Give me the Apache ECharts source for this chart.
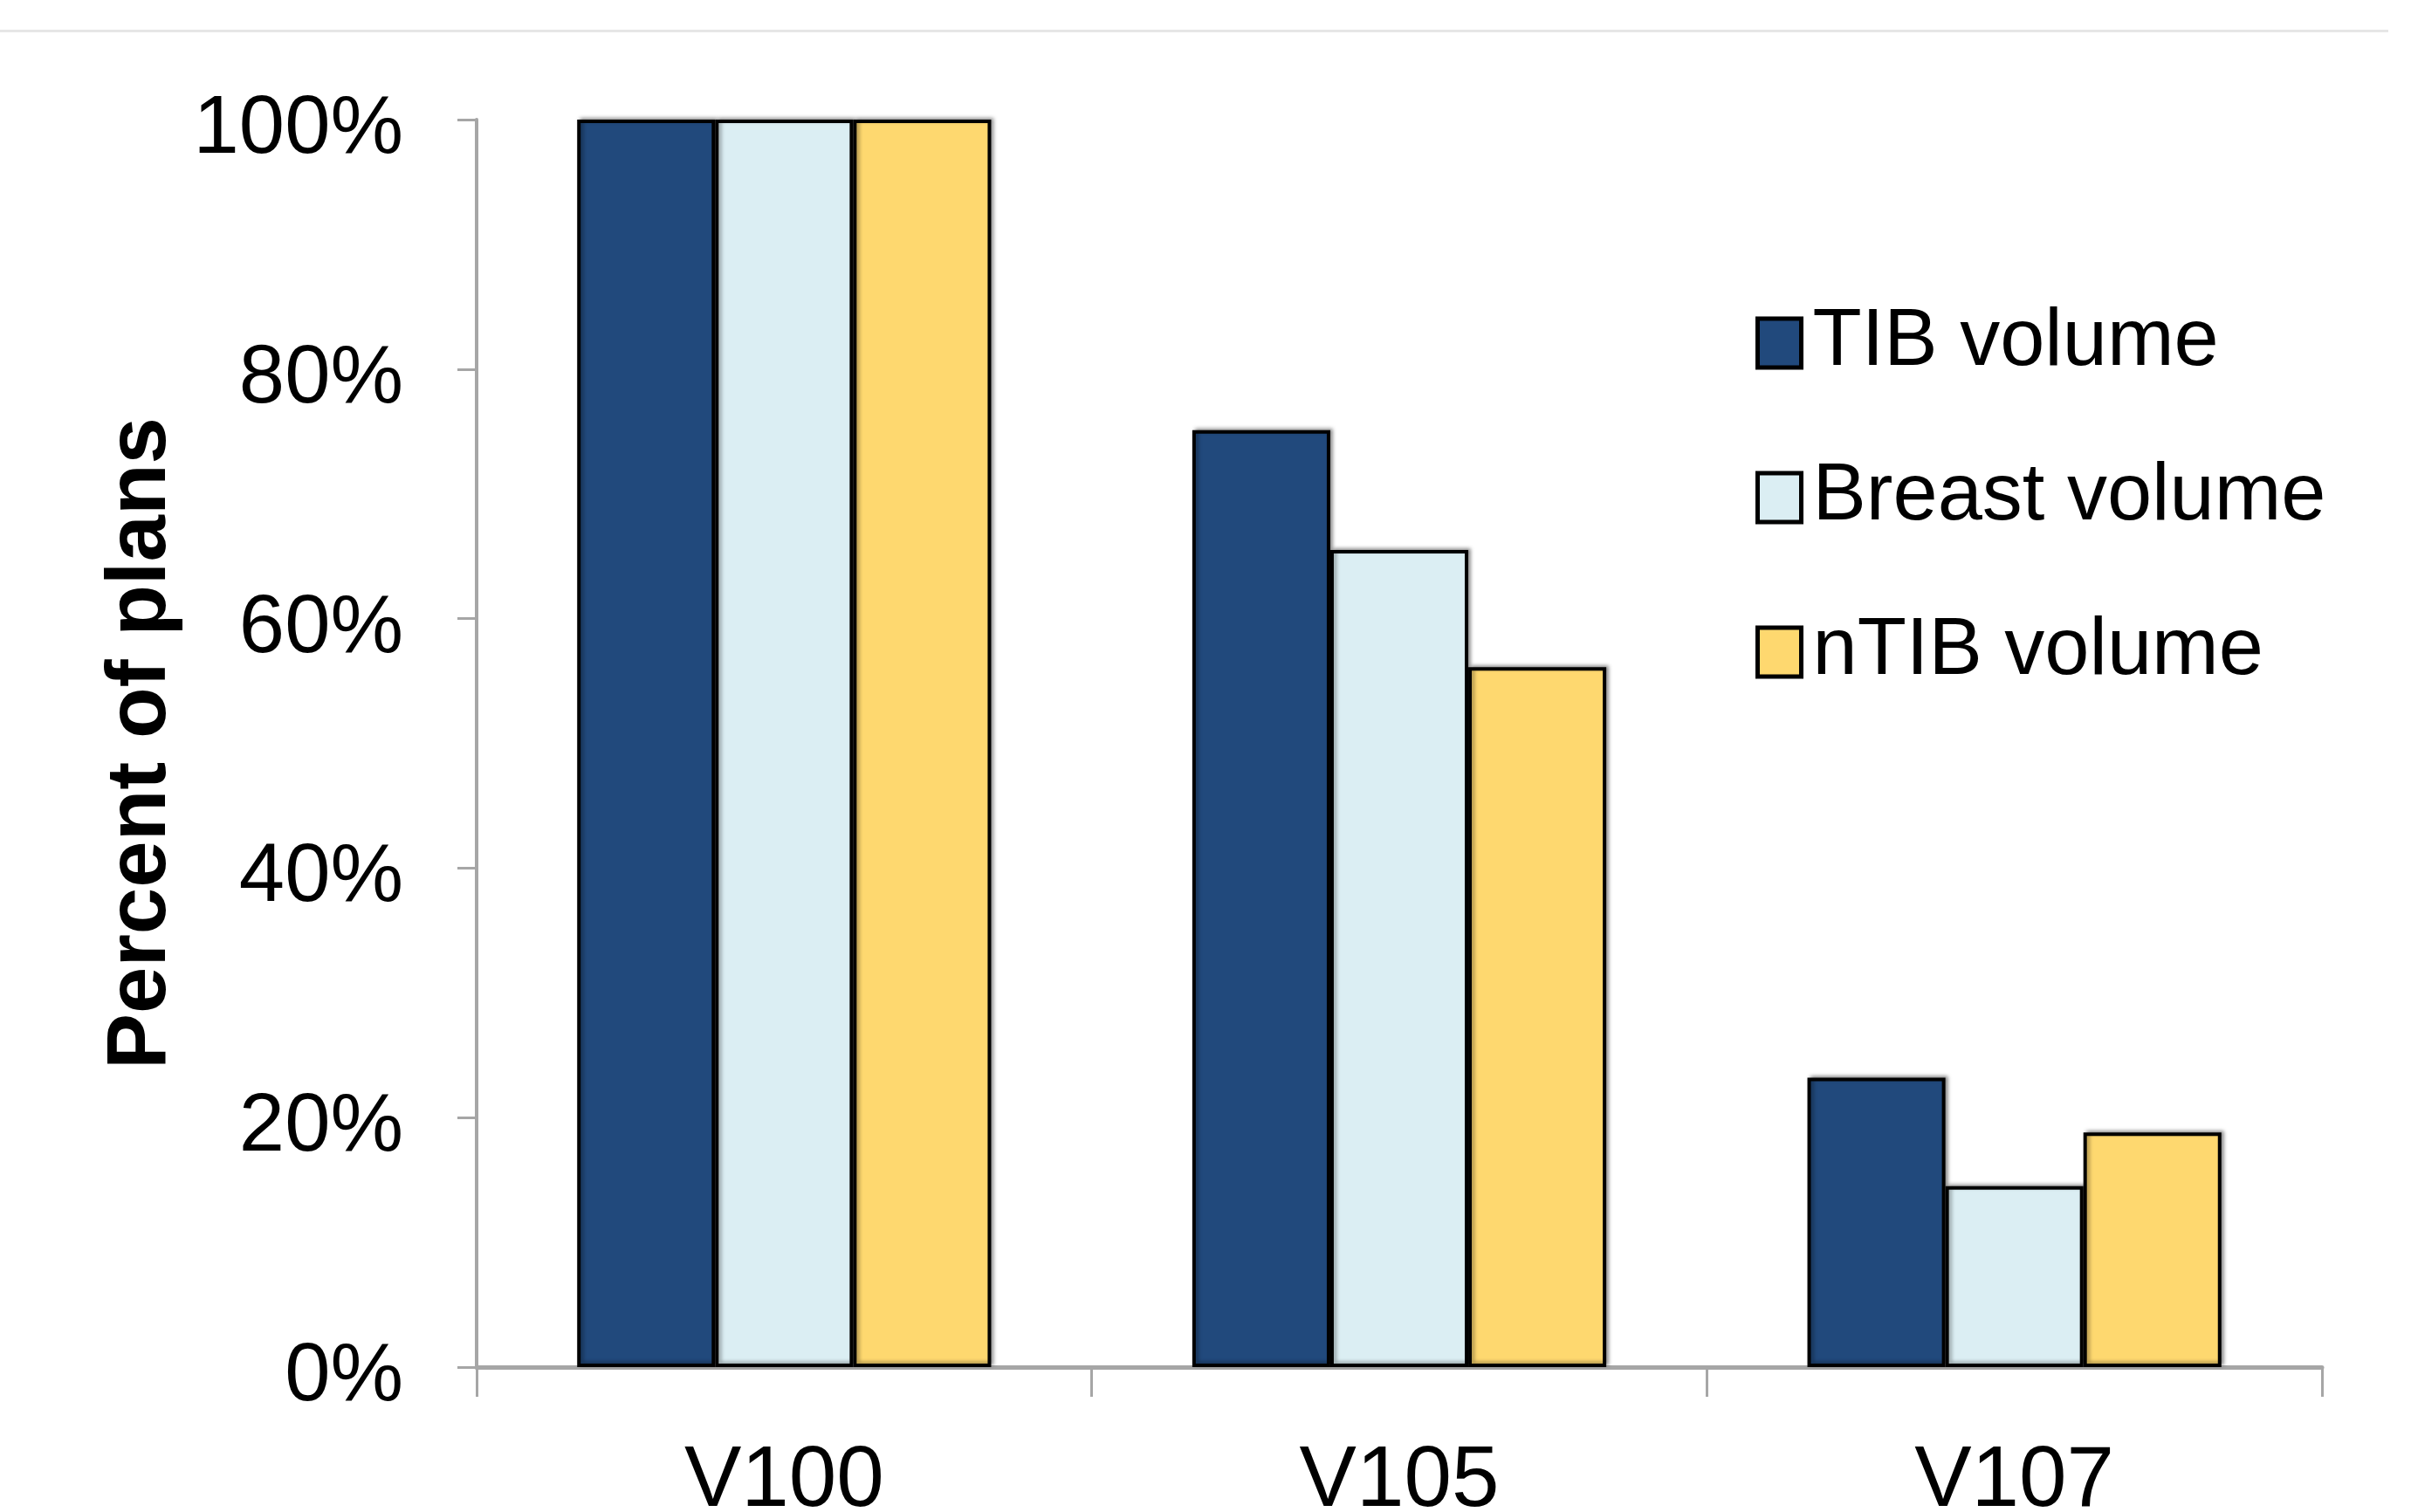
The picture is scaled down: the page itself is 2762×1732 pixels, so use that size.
<!DOCTYPE html>
<html>
<head>
<meta charset="utf-8">
<script src="https://cdn.jsdelivr.net/npm/echarts@6/dist/echarts.min.js"></script>
<style>
html,body{margin:0;padding:0;background:#fff;}
#chart{width:2762px;height:1732px;}
</style>
</head>
<body>
<div id="chart"></div>
<script>
const categories = ['V100', 'V105', 'V107'];
const seriesNames = ['TIB volume', 'Breast volume', 'nTIB volume'];
const tibValues = [100, 75.1, 23.2];
const breastValues = [100, 65.5, 14.5];
const ntibValues = [100, 56.1, 18.8];
const yTicks = [0, 20, 40, 60, 80, 100];

const colors = ['#21497c', '#dbeef3', '#fed86f'];
const FONT = '"Liberation Sans", Arial, sans-serif';

const chart = echarts.init(document.getElementById('chart'));

function barSeries(name, data, color) {
  return {
    name: name,
    type: 'bar',
    data: data,
    barGap: '0%',
    barCategoryGap: '32.7%',
    itemStyle: {
      color: color,
      borderColor: '#000',
      borderWidth: 4,
      shadowColor: 'rgba(0,0,0,0.35)',
      shadowBlur: 4,
      shadowOffsetX: 3,
      shadowOffsetY: -2
    },
    emphasis: { disabled: true }
  };
}

chart.setOption({
  animation: false,
  backgroundColor: '#fff',
  graphic: [{
    type: 'rect',
    shape: { x: 0, y: 34, width: 2736, height: 3 },
    style: { fill: '#e6e6e6' },
    silent: true
  }],
  grid: { left: 546, right: 102, top: 137, bottom: 166, containLabel: false, outerBoundsMode: 'none' },
  legend: {
    orient: 'vertical',
    left: 2006,
    top: 336,
    itemWidth: 50,
    itemHeight: 56,
    itemGap: 73,
    icon: 'rect',
    data: seriesNames,
    itemStyle: { borderColor: '#000', borderWidth: 5, shadowBlur: 0, shadowOffsetX: 0, shadowOffsetY: 0 },
    textStyle: {
      fontFamily: FONT,
      fontSize: 92,
      color: '#000',
      lineHeight: 94,
      padding: [10, 0, 0, 8]
    }
  },
  xAxis: {
    type: 'category',
    data: categories,
    axisLine: { lineStyle: { color: '#a6a6a6', width: 5 } },
    axisTick: { show: true, length: 34, lineStyle: { color: '#a6a6a6', width: 3 } },
    axisLabel: {
      fontFamily: FONT,
      fontSize: 98,
      color: '#000',
      margin: 83
    }
  },
  yAxis: {
    type: 'value',
    min: 0,
    max: 100,
    interval: 20,
    name: 'Percent of plans',
    nameLocation: 'middle',
    nameRotate: 90,
    nameGap: 332,
    nameTextStyle: {
      fontFamily: FONT,
      fontSize: 96,
      fontWeight: 'bold',
      color: '#000'
    },
    splitLine: { show: false },
    axisLine: { show: true, lineStyle: { color: '#a6a6a6', width: 4 } },
    axisTick: { show: true, length: 22, lineStyle: { color: '#a6a6a6', width: 3 } },
    axisLabel: {
      fontFamily: FONT,
      fontSize: 94,
      color: '#000',
      margin: 84,
      formatter: function (v) { return yTicks.indexOf(v) >= 0 ? '{s| }\n{a|' + v + '%}' : ''; },
      rich: {
        s: { fontSize: 10, lineHeight: 24 },
        a: { fontFamily: FONT, fontSize: 94, color: '#000', lineHeight: 100 }
      }
    }
  },
  series: [
    barSeries(seriesNames[0], tibValues, colors[0]),
    barSeries(seriesNames[1], breastValues, colors[1]),
    barSeries(seriesNames[2], ntibValues, colors[2])
  ]
});
</script>
</body>
</html>
